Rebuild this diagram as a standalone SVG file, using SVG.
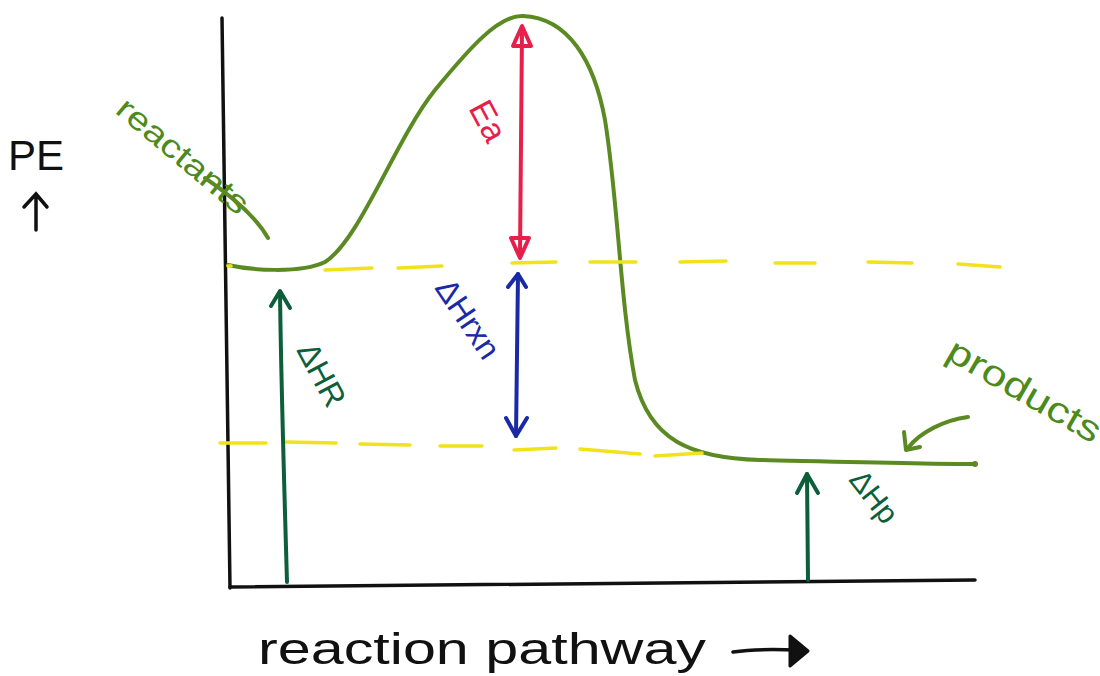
<svg xmlns="http://www.w3.org/2000/svg" width="1100" height="676" viewBox="0 0 1100 676">
<defs>
<style>
.hand{font-family:"Liberation Sans","DejaVu Sans",sans-serif;}
.axis{stroke:#111;stroke-width:3.5;fill:none;stroke-linecap:round}
.curve{stroke:#5b8a22;stroke-width:4;fill:none;stroke-linecap:round;stroke-linejoin:round}
.dash{stroke:#f2e21c;stroke-width:3.5;fill:none;stroke-linecap:round}
.dg{stroke:#0d5e3a;stroke-width:4;fill:none;stroke-linecap:round;stroke-linejoin:round}
.red{stroke:#e5204a;stroke-width:4;fill:none;stroke-linecap:round;stroke-linejoin:round}
.blue{stroke:#1a2aa6;stroke-width:4;fill:none;stroke-linecap:round;stroke-linejoin:round}
</style>
</defs>
<rect width="1100" height="676" fill="#fff"/>
<g id="axes">
<path class="axis" d="M222 18 L230 588"/>
<path class="axis" d="M230 587 L975 580"/>
</g>
<g id="pe-label">
<text class="hand" x="8" y="170" font-size="42" fill="#111">PE</text>
<path class="axis" d="M36 230 L36 194 M24 207 L36 194 L47 207" stroke-width="3"/>
</g>
<g id="energy-curve">
<path class="curve" d="M228 265 C250 270 300 274 325 262 C360 240 395 140 435 90 C468 50 498 15 523 16 C568 18 594 60 605 120 C618 200 620 300 635 380 C650 440 690 458 760 460 C850 462 930 464 975 464"/>
<circle cx="975" cy="464" r="3" fill="#5b8a22"/>
</g>
<g id="reactants">
<text class="hand" x="0" y="0" font-size="32" fill="#4d8a1c" transform="translate(114 112) rotate(40)" textLength="162" lengthAdjust="spacingAndGlyphs">reactants</text>
<path class="curve" d="M205 178 C230 195 255 215 268 238" stroke="#4d8a1c"/>
</g>
<g id="upper-level">
<path class="dash" d="M228 266 L231 266 M325 270 L372 268 M398 268 L442 266 M512 263 L556 262 M590 262 L636 262 M680 262 L726 261 M775 263 L815 263 M868 262 L912 263 M958 264 L1000 267"/>
</g>
<g id="lower-level">
<path class="dash" d="M220 443 L266 443 M286 442 L336 443 M360 444 L410 445 M440 446 L482 446 M514 450 L556 448 M580 449 L640 454"/>
<path class="dash" d="M655 456 L702 453" stroke-width="6"/>
</g>
<g id="ea">
<path class="red" d="M522 30 L520 255"/>
<path class="red" d="M522 26 L513 46 L531 46 Z"/>
<path class="red" d="M520 258 L511 238 L529 238 Z"/>
<text class="hand" x="0" y="0" font-size="34" fill="#e5204a" transform="translate(468 108) rotate(62)">Ea</text>
</g>
<g id="dhrxn">
<path class="blue" d="M518 274 L516 436"/>
<path class="blue" d="M508 287 L518 274 L526 287"/>
<path class="blue" d="M506 418 L516 436 L527 418"/>
<text class="hand" x="0" y="0" font-size="32" fill="#1a2aa6" transform="translate(434 288) rotate(56)">ΔHrxn</text>
</g>
<g id="dhr">
<path class="dg" d="M287 582 C284 480 281 380 280 292"/>
<path class="dg" d="M271 306 L280 291 L290 308"/>
<text class="hand" x="0" y="0" font-size="32" fill="#0d5e3a" transform="translate(296 350) rotate(62)">ΔHR</text>
</g>
<g id="dhp">
<path class="dg" d="M808 580 L807 474"/>
<path class="dg" d="M797 493 L807 474 L818 493"/>
<text class="hand" x="0" y="0" font-size="30" fill="#0d5e3a" transform="translate(848 480) rotate(52)">ΔHp</text>
</g>
<g id="products">
<text class="hand" x="0" y="0" font-size="36" fill="#4d8a1c" transform="translate(944 358) rotate(30)" textLength="172" lengthAdjust="spacingAndGlyphs">products</text>
<path class="curve" d="M968 417 C945 420 920 432 908 448" stroke="#4d8a1c"/>
<path class="curve" d="M904 432 L906 450 L920 447" stroke="#4d8a1c"/>
</g>
<g id="x-label">
<text class="hand" x="258" y="664" font-size="44" fill="#111" textLength="448" lengthAdjust="spacingAndGlyphs">reaction pathway</text>
<path class="axis" d="M733 652 C760 648 780 650 800 650" stroke-width="3"/>
<path d="M790 636 L808 651 L790 666 Z" stroke="#111" stroke-width="3" stroke-linejoin="round" fill="#111"/>
</g>
</svg>
